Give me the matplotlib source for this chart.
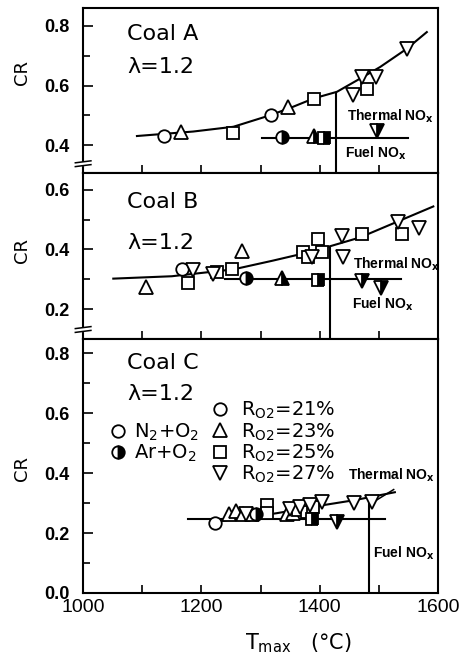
import numpy as np
import matplotlib.pyplot as plt
from matplotlib.lines import Line2D

plt.rcParams['font.family'] = 'DejaVu Sans'
plt.rcParams['mathtext.fontset'] = 'dejavusans'

# ---- Coal A (lambda = 1.2) ----
a21_t, a21_cr = [1136, 1317], [0.432, 0.501]
a23_t, a23_cr = [1165, 1347], [0.446, 0.529]
a25_t, a25_cr = [1254, 1390, 1480], [0.440, 0.554, 0.590]
a27_t, a27_cr = [1457, 1471, 1495, 1547], [0.568, 0.629, 0.629, 0.723]
a_ar = {'o': ([1336], [0.428]), '^': ([1390], [0.430]), 's': ([1407], [0.424]), 'v': ([1496], [0.449])}
a_curve_t = [1091, 1186, 1254, 1317, 1355, 1390, 1429, 1468, 1502, 1547, 1581]
a_curve_cr = [0.431, 0.446, 0.462, 0.501, 0.529, 0.557, 0.579, 0.623, 0.662, 0.723, 0.779]
a_fuel_t, a_fuel_cr = [1302, 1550], [0.424, 0.424]
a_split_t, a_split_cr = 1428, 0.575

# ---- Coal B ----
b21_t, b21_cr = [1167], [0.334]
b23_t, b23_cr = [1106, 1269], [0.274, 0.394]
b25_t = [1178, 1226, 1252, 1372, 1380, 1397, 1404, 1471, 1539]
b25_cr = [0.289, 0.325, 0.335, 0.390, 0.373, 0.434, 0.390, 0.450, 0.452]
b27_t = [1186, 1220, 1387, 1438, 1440, 1533, 1568]
b27_cr = [0.331, 0.316, 0.376, 0.444, 0.373, 0.493, 0.472]
b_ar = {'o': ([1275], [0.305]), '^': ([1336], [0.305]), 's': ([1397], [0.297]),
        'v': ([1472, 1503], [0.294, 0.272])}
b_curve_t = [1051, 1150, 1254, 1320, 1389, 1468, 1592]
b_curve_cr = [0.302, 0.310, 0.333, 0.362, 0.394, 0.440, 0.544]
b_fuel_t, b_fuel_cr = [1240, 1538], [0.302, 0.302]
b_split_t, b_split_cr = 1418, 0.408

# ---- Coal C ----
c21_t, c21_cr = [1223], [0.234]
c23_t = [1246, 1258, 1270, 1285, 1344, 1355]
c23_cr = [0.262, 0.272, 0.262, 0.262, 0.262, 0.268]
c25_t = [1311, 1311, 1364, 1378, 1389]
c25_cr = [0.292, 0.266, 0.277, 0.271, 0.288]
c27_t = [1275, 1350, 1367, 1383, 1403, 1458, 1488]
c27_cr = [0.262, 0.279, 0.286, 0.292, 0.302, 0.300, 0.304]
c_ar = {'o': ([1292], [0.262]), 's': ([1387], [0.248]), 'v': ([1429], [0.236])}
c_curve_t = [1237, 1327, 1406, 1460, 1527]
c_curve_cr = [0.241, 0.266, 0.293, 0.310, 0.336]
c_fuel_t, c_fuel_cr = [1178, 1510], [0.248, 0.248]
c_split_t, c_split_cr = 1484, 0.316

ms = {'o': 9, '^': 10, 's': 8.5, 'v': 10}
ro2_labels = [r'R$_{\mathrm{O2}}$=21%', r'R$_{\mathrm{O2}}$=23%',
              r'R$_{\mathrm{O2}}$=25%', r'R$_{\mathrm{O2}}$=27%']

fig = plt.figure(figsize=(4.67, 6.58), dpi=100)
L, W = 0.178, 0.760
axA = fig.add_axes([L, 0.737, W, 0.251])
axB = fig.add_axes([L, 0.485, W, 0.252])
axC = fig.add_axes([L, 0.0988, W, 0.386])


def draw(ax, series, ar, curve, fuel, split):
    ax.plot(curve[0], curve[1], color='k', lw=1.5, zorder=2)
    ax.plot(fuel[0], fuel[1], color='k', lw=1.5, zorder=2)
    ax.plot([split[0], split[0]], [ax.get_ylim()[0], split[1]], color='k', lw=1.5, zorder=2)
    handles = []
    for (t, cr), m in zip(series, ['o', '^', 's', 'v']):
        h, = ax.plot(t, cr, ls='none', marker=m, ms=ms[m], mfc='white', mec='k', mew=1.3, zorder=3)
        handles.append(h)
    for m, (t, cr) in ar.items():
        ax.plot(t, cr, ls='none', marker=m, ms=ms[m], fillstyle='right', mfc='k',
                mfcalt='white', mec='k', mew=1.3, zorder=4)
    return handles


def style(ax, ylim, major, minor, ylab_y, brk=True):
    ax.set_xlim(1000, 1600)
    ax.set_ylim(*ylim)
    ax.set_yticks(major)
    ax.set_yticks(minor, minor=True)
    ax.set_xticks([1000, 1200, 1400, 1600])
    ax.set_xticks([1100, 1300, 1500], minor=True)
    ax.tick_params(which='both', direction='in', width=1.2, top=False, right=False)
    ax.tick_params(axis='y', which='major', length=7, pad=10)
    ax.tick_params(axis='y', which='minor', length=5)
    ax.tick_params(axis='x', which='both', length=6, pad=4)
    plt.setp(ax.get_yticklabels(), family='Liberation Sans', weight='bold', size=13)
    plt.setp(ax.get_xticklabels(), family='Liberation Sans', size=14)
    for s in ax.spines.values():
        s.set_linewidth(1.5)
    ax.set_ylabel('CR', fontsize=13)
    ax.yaxis.set_label_coords(-0.147, ylab_y)
    if brk:
        ax.plot([-0.03, 0.03], [0.055, 0.055], transform=ax.transAxes, color='white', lw=3,
                clip_on=False, zorder=5)
        for yy in (0.045, 0.068):
            ax.plot([-0.022, 0.022], [yy - 0.006, yy + 0.006], transform=ax.transAxes,
                    color='k', lw=1.1, clip_on=False, zorder=6)


style(axA, (0.307, 0.86), [0.4, 0.6, 0.8], [0.5, 0.7], 0.61)
style(axB, (0.10, 0.656), [0.2, 0.4, 0.6], [0.3, 0.5], 0.53)
style(axC, (0.0, 0.847), [0.0, 0.2, 0.4, 0.6, 0.8], [0.1, 0.3, 0.5, 0.7], 0.49, brk=False)
for ax in (axA, axB):
    ax.tick_params(axis='x', labelbottom=False)

draw(axA, [(a21_t, a21_cr), (a23_t, a23_cr), (a25_t, a25_cr), (a27_t, a27_cr)], a_ar,
     (a_curve_t, a_curve_cr), (a_fuel_t, a_fuel_cr), (a_split_t, a_split_cr))
draw(axB, [(b21_t, b21_cr), (b23_t, b23_cr), (b25_t, b25_cr), (b27_t, b27_cr)], b_ar,
     (b_curve_t, b_curve_cr), (b_fuel_t, b_fuel_cr), (b_split_t, b_split_cr))
hC = draw(axC, [(c21_t, c21_cr), (c23_t, c23_cr), (c25_t, c25_cr), (c27_t, c27_cr)], c_ar,
          (c_curve_t, c_curve_cr), (c_fuel_t, c_fuel_cr), (c_split_t, c_split_cr))

# panel captions
for ax, name, y1, y2 in ((axA, 'Coal A', 0.773, 0.663), (axB, 'Coal B', 0.560, 0.422),
                         (axC, 'Coal C', 0.767, 0.663)):
    ax.text(1074, y1, name, fontsize=16, va='center')
    ax.text(1074, y2, 'λ=1.2', fontsize=16, va='center')

bold = dict(family='Liberation Sans', weight='bold', fontsize=10, va='center')
axA.text(1446, 0.497, r'Thermal NO$_\mathbf{x}$', **bold)
axA.text(1443, 0.373, r'Fuel NO$_\mathbf{x}$', **bold)
axB.text(1456, 0.349, r'Thermal NO$_\mathbf{x}$', **bold)
axB.text(1455, 0.215, r'Fuel NO$_\mathbf{x}$', **bold)
axC.text(1448, 0.393, r'Thermal NO$_\mathbf{x}$', **bold)
axC.text(1490, 0.133, r'Fuel NO$_\mathbf{x}$', **bold)
axC.plot([1488, 1525], [0.300, 0.345], color='k', lw=1.1)

# legends
leg1 = axC.legend(hC, ro2_labels, loc='upper left', bbox_to_anchor=(0.363, 0.76),
                  frameon=False, fontsize=14, handlelength=0.8, handletextpad=0.7,
                  labelspacing=0.0, borderpad=0, borderaxespad=0)
axC.add_artist(leg1)
gas = [Line2D([], [], ls='none', marker='o', ms=9, mfc='white', mec='k', mew=1.3),
       Line2D([], [], ls='none', marker='o', ms=9, fillstyle='right', mfc='k',
              mfcalt='white', mec='k', mew=1.3)]
axC.legend(gas, [r'N$_2$+O$_2$', 'Ar+O$_2$'], loc='upper left', bbox_to_anchor=(0.075, 0.675),
           frameon=False, fontsize=14, handlelength=0.8, handletextpad=0.45,
           labelspacing=0.0, borderpad=0, borderaxespad=0)

axC.set_xlabel(r'T$_{\mathrm{max}}$   (°C)', fontsize=15)
axC.xaxis.set_label_coords(0.606, -0.15)

fig.savefig('out.png', dpi=100)
